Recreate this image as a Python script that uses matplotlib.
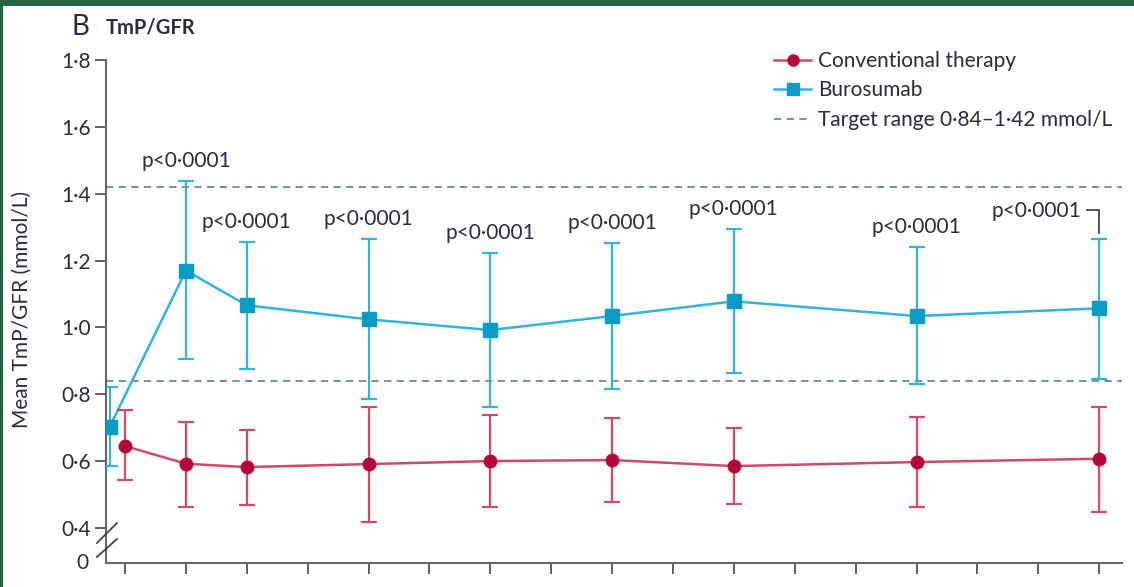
import numpy as np
import matplotlib
matplotlib.use("Agg")
import matplotlib.pyplot as plt
from matplotlib.patches import Rectangle
from matplotlib.lines import Line2D

plt.rcParams["font.family"] = ["Lato", "DejaVu Sans"]

# --- data (mean with error-bar limits, mmol/L) ---
weeks = [0, 4, 8, 16, 24, 32, 40, 52, 64]
conv_mean = [0.645, 0.592, 0.582, 0.591, 0.600, 0.603, 0.585, 0.597, 0.607]
conv_upper = [0.753, 0.718, 0.694, 0.763, 0.739, 0.728, 0.698, 0.733, 0.763]
conv_lower = [0.543, 0.463, 0.468, 0.418, 0.462, 0.478, 0.473, 0.463, 0.448]
buro_mean = [0.703, 1.170, 1.066, 1.024, 0.992, 1.034, 1.078, 1.034, 1.057]
buro_upper = [0.823, 1.437, 1.256, 1.265, 1.222, 1.251, 1.294, 1.240, 1.265]
buro_lower = [0.585, 0.906, 0.876, 0.785, 0.762, 0.817, 0.863, 0.830, 0.847]
p_labels = ["", "p<0·0001", "p<0·0001", "p<0·0001", "p<0·0001",
            "p<0·0001", "p<0·0001", "p<0·0001", "p<0·0001"]
target_low, target_high = 0.84, 1.42
x_ticks = list(range(0, 65, 4))
y_ticks = [0.4, 0.6, 0.8, 1.0, 1.2, 1.4, 1.6, 1.8]
y_ticklabels = ["0·4", "0·6", "0·8", "1·0", "1·2", "1·4", "1·6", "1·8"]

RED = "#b3063c"
RED_LIGHT = "#cd4a6c"
BLUE = "#0a9cc4"
BLUE_LIGHT = "#33b3d6"
GREY = "#6e8690"
TEXT = "#2b2b3a"
FS = 15
Y_BOTTOM = 0.295          # where the broken axis puts "0"

fig = plt.figure(figsize=(11.34, 5.87), dpi=100)
fig.patch.set_facecolor("white")
ax = fig.add_axes([106 / 1134, 24 / 587, 1016 / 1134, 503 / 587])

conv = np.array(conv_mean)
buro = np.array(buro_mean)
buro_x = np.array(weeks, dtype=float)
buro_x[0] -= 1.0          # baseline dodged left so the two bars don't overlap

# target range
for yv in (target_low, target_high):
    ax.axhline(yv, color=GREY, lw=1.3, ls=(0, (4, 3)), zorder=1)

# connecting lines
ax.plot(weeks, conv, color=RED_LIGHT, lw=1.8, zorder=2)
ax.plot(buro_x, buro, color=BLUE_LIGHT, lw=1.8, zorder=2)

# error bars
ax.errorbar(weeks, conv, yerr=[conv - np.array(conv_lower), np.array(conv_upper) - conv],
            fmt="none", ecolor=RED_LIGHT, elinewidth=1.6, capsize=5.5, capthick=1.6, zorder=3)
ax.errorbar(buro_x, buro, yerr=[buro - np.array(buro_lower), np.array(buro_upper) - buro],
            fmt="none", ecolor=BLUE_LIGHT, elinewidth=1.6, capsize=5.5, capthick=1.6, zorder=3)

# markers
ax.plot(weeks, conv, ls="none", marker="o", ms=9, color=RED, zorder=4)
ax.plot(buro_x, buro, ls="none", marker="s", ms=9.5, color=BLUE, zorder=4)

# p-values above the burosumab bars (last one pulled left with a bracket)
for i, (wk, top, lab) in enumerate(zip(weeks, buro_upper, p_labels)):
    if not lab:
        continue
    if i == len(weeks) - 1:
        ax.text(wk - 1.2, top + 0.083, lab, ha="right", va="center",
                fontsize=FS, color=TEXT)
        ax.plot([wk - 0.8, wk, wk], [top + 0.086, top + 0.086, top + 0.018],
                color="#444444", lw=1.3, zorder=3)
    else:
        ax.text(wk, top + 0.06, lab, ha="center", va="center", fontsize=FS, color=TEXT)

ax.set_xlim(-1.25, 65.5)
ax.set_ylim(Y_BOTTOM, 1.8)
ax.set_xticks(x_ticks)
ax.set_yticks(y_ticks)
ax.set_yticklabels(y_ticklabels)
ax.tick_params(axis="x", direction="out", length=8, width=1.2, color="#444444",
               labelbottom=False)
ax.tick_params(axis="y", direction="out", length=8, width=1.2, color="#444444",
               labelsize=FS, labelcolor=TEXT, pad=3)
for side in ("top", "right"):
    ax.spines[side].set_visible(False)
for side in ("left", "bottom"):
    ax.spines[side].set_color("#666666")
    ax.spines[side].set_linewidth(1.5)

# broken-axis marks and the "0" label
for y0, y1 in ((0.0398, 0.0795), (0.0119, 0.0477)):
    ax.plot([-0.0089, 0.0108], [y0, y1], transform=ax.transAxes, color="#444444",
            lw=1.3, clip_on=False, zorder=5)
ax.text(-0.017, 0.0, "0", transform=ax.transAxes, ha="right", va="center",
        fontsize=FS, color=TEXT)

# legend
handles = [
    Line2D([], [], color=RED_LIGHT, lw=1.8, marker="o", ms=8, mfc=RED, mec=RED),
    Line2D([], [], color=BLUE_LIGHT, lw=1.8, marker="s", ms=8.5, mfc=BLUE, mec=BLUE),
    Line2D([], [], color=GREY, lw=1.3, ls=(0, (4, 3))),
]
ax.legend(handles, ["Conventional therapy", "Burosumab", "Target range 0·84–1·42 mmol/L"],
          loc="upper left", bbox_to_anchor=(0.639, 1.055), frameon=False, fontsize=FS,
          handlelength=1.8, handletextpad=0.3, labelspacing=0.45, labelcolor=TEXT)

# titles and axis label
fig.text(72 / 1134, 1 - 27 / 587, "B", fontsize=20, color=TEXT, va="center", ha="left")
fig.text(106 / 1134, 1 - 28 / 587, "TmP/GFR", fontsize=14.5, fontweight="bold",
         color=TEXT, va="center", ha="left")
fig.text(22 / 1134, 1 - 309 / 587, "Mean TmP/GFR (mmol/L)", fontsize=FS, color=TEXT,
         rotation=90, ha="center", va="center")

# dark green frame of the source page
fig.patches.append(Rectangle((0, 1 - 6 / 587), 1, 6 / 587, transform=fig.transFigure,
                             facecolor="#246444", edgecolor="none", zorder=10))
fig.patches.append(Rectangle((0, 0), 3 / 1134, 1, transform=fig.transFigure,
                             facecolor="#246444", edgecolor="none", zorder=10))

fig.savefig("out.png", dpi=100, facecolor="white")
